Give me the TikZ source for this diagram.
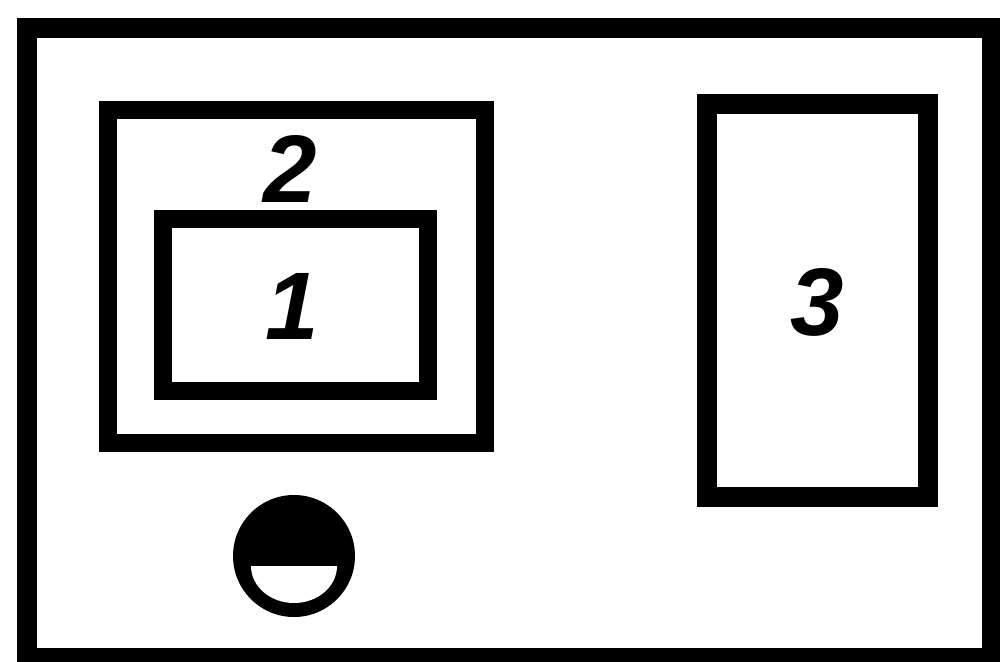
\documentclass[tikz,border=0pt]{standalone}
\usepackage{fontspec}
\setmainfont{Liberation Sans}
\begin{document}
\begin{tikzpicture}[x=1pt,y=-1pt,
  frame/.style={draw=black,line width=19pt,line join=miter},
  digit/.style={font=\fontsize{96}{96}\selectfont\bfseries\itshape,inner sep=0pt}]
\useasboundingbox (0,0) rectangle (1000,661);
\fill[white] (0,0) rectangle (1000,661);
% outer housing
\draw[frame,line width=20pt] (27,28) rectangle (992,658);
% box 2
\draw[frame,line width=18pt] (108,110) rectangle (485,443);
% box 1
\draw[frame,line width=18pt] (163,219) rectangle (428,391);
% box 3
\draw[frame,line width=20pt] (707,104) rectangle (928,497);
% labels
\node[digit] (l2) at (290,169) {2};
\node[digit] (l1) at (292,306) {1};
\node[digit] (l3) at (817,302) {3};
% indicator lamp
\fill[black] (294,556) circle (61);
\fill[white] (251,566) -- (337,566) arc[start angle=0,end angle=180,x radius=43,y radius=37] -- cycle;
\end{tikzpicture}
\end{document}
